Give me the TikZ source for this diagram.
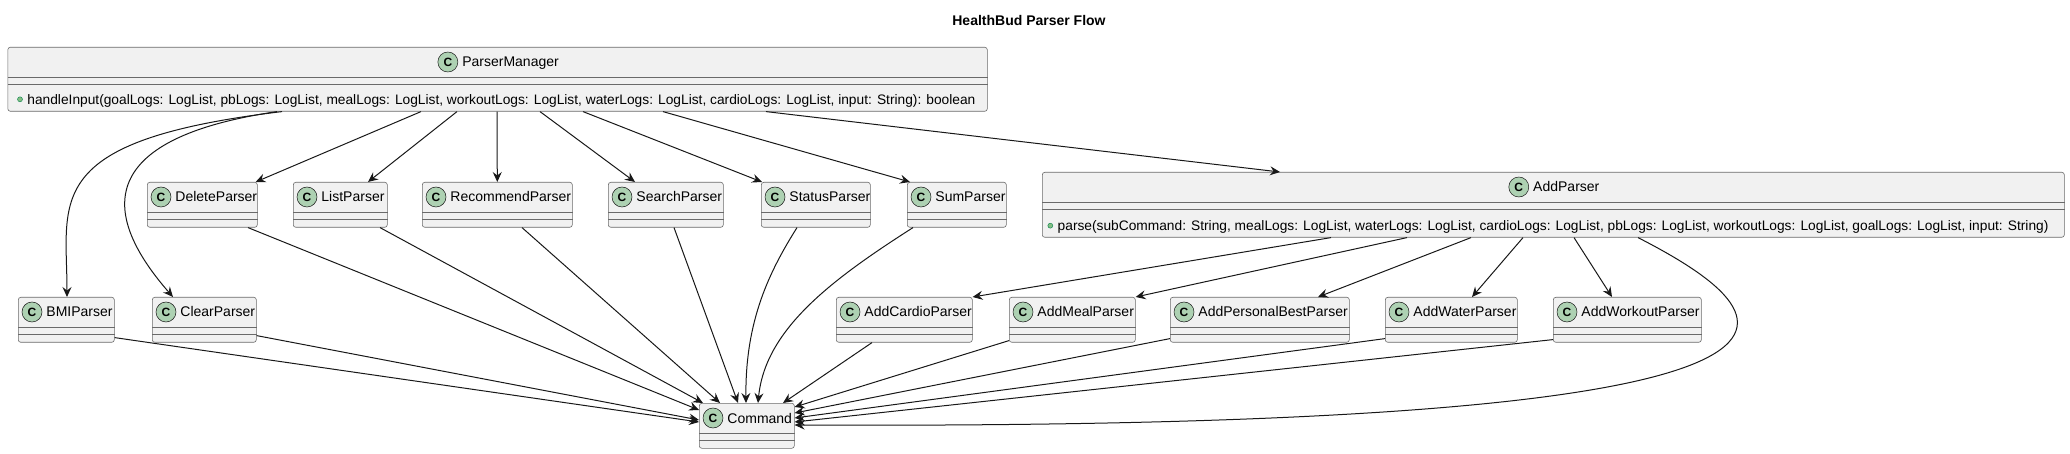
\documentclass[tikz,border=0pt]{standalone}
\usepackage{fontspec}
\setmainfont{Liberation Sans}
\usetikzlibrary{arrows.meta, positioning, calc}
\definecolor{linec}{HTML}{181818}
\definecolor{rulec}{HTML}{6A6A6A}
\definecolor{boxfill}{HTML}{F1F1F1}
\definecolor{spotfill}{HTML}{ADD1B2}
\definecolor{dotfill}{HTML}{84BE84}
\definecolor{dotline}{HTML}{038048}

\begin{document}
\begin{tikzpicture}[x=1pt, y=-1pt, font=\fontsize{14}{16}\selectfont]
    \tikzstyle{classbox} = [rectangle, rounded corners=2.5pt, draw=rulec, line width=0.6pt, fill=boxfill, inner sep=0pt, minimum height=45pt, anchor=north west]
    \tikzstyle{badge} = [circle, draw=linec, line width=0.5pt, fill=spotfill, minimum size=20pt, inner sep=0pt, font=\fontsize{12}{12}\selectfont\bfseries]
    \tikzstyle{label} = [inner sep=0pt, text height=10pt, text depth=0pt]
    \tikzstyle{oplabel} = [label, font=\fontsize{13.75}{16}\selectfont]
    \tikzstyle{divider} = [draw=rulec, line width=0.6pt]
    \tikzstyle{pubdot} = [circle, draw=dotline, fill=dotfill, line width=0.4pt, minimum size=5pt, inner sep=0pt]
    \tikzstyle{arrow} = [draw=linec, line width=1pt, -{Stealth[length=10pt, width=9pt, inset=3.5pt]}]

    \useasboundingbox (0,0) rectangle (2070,454);

    \node[font=\fontsize{14}{16}\selectfont\bfseries] (title) at (1029,20) {HealthBud Parser Flow};

    % ParserManager
    \node[classbox, minimum width=979.5pt, minimum height=64pt] (pm) at (7.5,47) {};
    \node[label] (pm-t) at ($(pm.north)+(13,15)$) {ParserManager};
    \node[badge, left=4pt of pm-t] (pm-c) {C};
    \draw[divider] ($(pm.north west)+(0,30)$) -- ($(pm.north east)+(0,30)$);
    \draw[divider] ($(pm.north west)+(0,37)$) -- ($(pm.north east)+(0,37)$);
    \node[pubdot] (pm-dot) at ($(pm.north west)+(12.5,52.3)$) {};
    \node[oplabel, right=4.5pt of pm-dot] (pm-op) {handleInput(goalLogs: LogList, pbLogs: LogList, mealLogs: LogList, workoutLogs: LogList, waterLogs: LogList, cardioLogs: LogList, input: String): boolean};

    % AddParser
    \node[classbox, minimum width=1022pt, minimum height=65pt] (addp) at (1042,172) {};
    \node[label] (addp-t) at ($(addp.north)+(13,15)$) {AddParser};
    \node[badge, left=4pt of addp-t] (addp-c) {C};
    \draw[divider] ($(addp.north west)+(0,30)$) -- ($(addp.north east)+(0,30)$);
    \draw[divider] ($(addp.north west)+(0,37.5)$) -- ($(addp.north east)+(0,37.5)$);
    \node[pubdot] (addp-dot) at ($(addp.north west)+(8.3,53.7)$) {};
    \node[oplabel, right=4.5pt of addp-dot] (addp-op) {parse(subCommand: String, mealLogs: LogList, waterLogs: LogList, cardioLogs: LogList, pbLogs: LogList, workoutLogs: LogList, goalLogs: LogList, input: String)};

    % empty classes
    \foreach \id/\x/\y/\w/\name in {delete/147/182/110/DeleteParser, list/293/182/94/ListParser, recommend/422/182/150/RecommendParser, search/608/182/115/SearchParser, status/761/182/109/StatusParser, sum/907/182/99/SumParser, bmi/18/297/96/BMIParser, clear/152/297/104/ClearParser, addcardio/836/297/136/AddCardioParser, addmeal/1009/297/126/AddMealParser, addpb/1170/297/179/AddPersonalBestParser, addwater/1385/297/132/AddWaterParser, addworkout/1553/297/148/AddWorkoutParser, command/699/403/95/Command} {
        \node[classbox, minimum width=\w pt] (\id) at (\x,\y) {};
        \node[badge] (\id-c) at ($(\id.north west)+(14,15)$) {C};
        \node[label, right=4pt of \id-c] (\id-t) {\name};
        \draw[divider] ($(\id.north west)+(0,30)$) -- ($(\id.north east)+(0,30)$);
        \draw[divider] ($(\id.north west)+(0,37.5)$) -- ($(\id.north east)+(0,37.5)$);
    }

    % ParserManager -> parsers
    \draw[arrow] ($(pm.south west)+(274.5,0)$) .. controls ($(pm.south west)+(32.5,29)$) and ($(bmi.north west)+(49,-97)$) .. ($(bmi.north west)+(49,0)$);
    \draw[arrow] ($(pm.south west)+(269.5,0)$) .. controls ($(pm.south west)+(72.5,29)$) and ($(clear.north west)+(-42,-72)$) .. ($(clear.north west)+(21,0)$);
    \draw[arrow] ($(pm.south west)+(413.5,0)$) -- ($(delete.north east)+(-2,0)$);
    \draw[arrow] ($(pm.south west)+(449.5,0)$) -- ($(list.north west)+(75,0)$);
    \draw[arrow] ($(pm.south west)+(489.5,0)$) -- (recommend.north);
    \draw[arrow] ($(pm.south west)+(532.5,0)$) -- ($(search.north west)+(27,0)$);
    \draw[arrow] ($(pm.south west)+(575.5,0)$) -- ($(status.north west)+(1,0)$);
    \draw[arrow] ($(pm.south west)+(655.5,0)$) -- ($(sum.north west)+(3,0)$);
    \draw[arrow] ($(pm.south west)+(758.5,0)$) -- ($(addp.north west)+(238,0)$);

    % AddParser -> add parsers
    \draw[arrow] ($(addp.south west)+(289,0)$) -- (addcardio.north east);
    \draw[arrow] ($(addp.south west)+(365,0)$) -- (addmeal.north east);
    \draw[arrow] ($(addp.south west)+(429,0)$) -- ($(addpb.north west)+(148,0)$);
    \draw[arrow] ($(addp.south west)+(481,0)$) -- ($(addwater.north west)+(87,0)$);
    \draw[arrow] ($(addp.south west)+(532,0)$) -- ($(addworkout.north west)+(59,0)$);
    \draw[arrow] ($(addp.south west)+(596,0)$) .. controls ($(addp.south west)+(758,83)$) and ($(command.north east)+(1106,27)$) .. ($(command.north east)+(0,22)$);

    % parsers -> Command
    \draw[arrow] ($(bmi.south east)+(0,-5)$) -- ($(command.north west)+(0,19)$);
    \draw[arrow] ($(clear.south east)+(0,-7)$) -- ($(command.north west)+(0,17)$);
    \draw[arrow] ($(delete.south west)+(101,0)$) -- ($(command.north west)+(0,7)$);
    \draw[arrow] ($(list.south west)+(87,0)$) -- ($(command.north west)+(4,0)$);
    \draw[arrow] ($(recommend.south west)+(100,0)$) -- ($(command.north west)+(21,0)$);
    \draw[arrow] ($(search.south west)+(66,0)$) -- ($(command.north west)+(39,0)$);
    \draw[arrow] ($(status.south west)+(36,0)$) .. controls ($(status.south west)+(9,43)$) and ($(command.north west)+(46,-83)$) .. ($(command.north west)+(47,0)$);
    \draw[arrow] ($(sum.south west)+(6,0)$) .. controls ($(sum.south west)+(-77,53)$) and ($(command.north west)+(66,-73)$) .. ($(command.north west)+(59,0)$);
    \draw[arrow] ($(addcardio.south west)+(36,0)$) -- ($(command.north west)+(84,0)$);
    \draw[arrow] ($(addmeal.south west)+(0,-2)$) -- ($(command.north east)+(0,4)$);
    \draw[arrow] ($(addpb.south west)+(0,-4)$) -- ($(command.north east)+(0,10)$);
    \draw[arrow] ($(addwater.south west)+(0,-4)$) -- ($(command.north east)+(0,15)$);
    \draw[arrow] ($(addworkout.south west)+(0,-3)$) -- ($(command.north east)+(0,19)$);
\end{tikzpicture}
\end{document}
